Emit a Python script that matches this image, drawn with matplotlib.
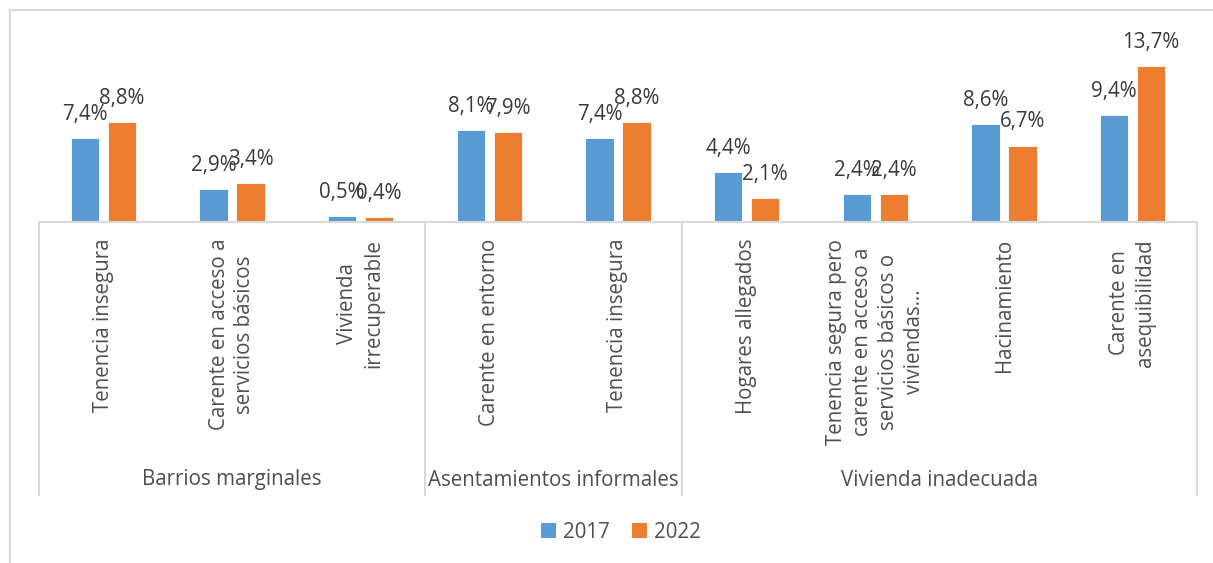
import matplotlib
matplotlib.use("Agg")
import matplotlib.pyplot as plt
import matplotlib.transforms as mtransforms
from matplotlib.lines import Line2D
from matplotlib.patches import Patch
from matplotlib import font_manager as fm
import numpy as np

categories = ["Tenencia insegura",
              "Carente en acceso a\nservicios básicos",
              "Vivienda\nirrecuperable",
              "Carente en entorno",
              "Tenencia insegura",
              "Hogares allegados",
              "Tenencia segura pero\ncarente en acceso a\nservicios básicos o\nviviendas…",
              "Hacinamiento",
              "Carente en\nasequibilidad"]
groups = ["Barrios marginales", "Asentamientos informales", "Vivienda inadecuada"]
group_sizes = [3, 2, 4]
series_names = ["2017", "2022"]
values_2017 = [7.4, 2.9, 0.5, 8.1, 7.4, 4.4, 2.4, 8.6, 9.4]
values_2022 = [8.8, 3.4, 0.4, 7.9, 8.8, 2.1, 2.4, 6.7, 13.7]

BLUE = "#5B9BD5"
ORANGE = "#ED7D31"
GRID = "#D9D9D9"
TXT = "#4F4F4F"
LBL = "#3A3A3A"
FS = 14.8

# pick a regular-width Open Sans file explicitly
font_path = None
for f in fm.fontManager.ttflist:
    if f.name == "Open Sans" and f.style == "normal" and f.stretch in ("normal", 400) \
            and (f.weight in (400, "normal", "regular")):
        font_path = f.fname
        break
if font_path:
    def FP(size=FS):
        return fm.FontProperties(fname=font_path, size=size)
else:
    def FP(size=FS):
        return fm.FontProperties(family="Open Sans", size=size, stretch="normal", weight="normal")

W, H = 1213, 563
fig = plt.figure(figsize=(W / 100, H / 100), dpi=100)

def fx(px):
    return px / W

def fy(py):
    return 1 - py / H

ax_left, ax_right = 39, 1197
ax_top, ax_bottom = 20, 221.7
ax = fig.add_axes([fx(ax_left), fy(ax_bottom), fx(ax_right) - fx(ax_left), fy(ax_top) - fy(ax_bottom)])
ax.set_xlim(-0.5, len(categories) - 0.5)
ax.set_ylim(0, (ax_bottom - ax_top) / 11.365)
ax.axis("off")

x = np.arange(len(categories))
bw = 0.222
off = 0.144
b1 = ax.bar(x - off, values_2017, bw, color=BLUE, edgecolor="white", linewidth=0.6, label=series_names[0])
b2 = ax.bar(x + off, values_2022, bw, color=ORANGE, edgecolor="white", linewidth=0.6, label=series_names[1])

def fmt(v):
    return f"{v:.1f}%".replace(".", ",")

for bars, vals in ((b1, values_2017), (b2, values_2022)):
    for rect, v in zip(bars, vals):
        ax.annotate(fmt(v), (rect.get_x() + rect.get_width() / 2, v),
                    xytext=(0, 13), textcoords="offset points",
                    ha="center", va="baseline", color=LBL,
                    fontproperties=FP(), annotation_clip=False)

# category axis box
tr = mtransforms.blended_transform_factory(ax.transData, fig.transFigure)
box_bottom = 495
ax.add_line(Line2D([-0.5, len(categories) - 0.5], [fy(ax_bottom)] * 2, transform=tr,
                   color=GRID, lw=1.5, clip_on=False))
bounds = np.concatenate([[0], np.cumsum(group_sizes)]) - 0.5
for b in bounds:
    ax.add_line(Line2D([b, b], [fy(ax_bottom), fy(box_bottom)], transform=tr,
                       color=GRID, lw=1.5, clip_on=False))

for i, c in enumerate(categories):
    ax.text(i, fy(239), c, transform=tr, rotation=90, ha="center", va="top",
            multialignment="center", color=TXT, fontproperties=FP(),
            linespacing=1.3, clip_on=False)

for g, lo, hi in zip(groups, bounds[:-1], bounds[1:]):
    ax.text((lo + hi) / 2, fy(480), g, transform=tr, ha="center", va="center",
            color=TXT, fontproperties=FP(), clip_on=False)

# outer chart border
fig.add_artist(Line2D([fx(10), fx(10)], [fy(10), 0], transform=fig.transFigure, color=GRID, lw=1.5))
fig.add_artist(Line2D([fx(10), 1], [fy(10), fy(10)], transform=fig.transFigure, color=GRID, lw=1.5))

handles = [Patch(facecolor=BLUE), Patch(facecolor=ORANGE)]
leg = fig.legend(handles, series_names, loc="center", bbox_to_anchor=(fx(621), fy(532)),
                 ncol=2, frameon=False, handlelength=0.7, handleheight=0.7,
                 handletextpad=0.35, columnspacing=1.1, prop=FP())
for t in leg.get_texts():
    t.set_color(TXT)

fig.savefig("out.png", dpi=100)
